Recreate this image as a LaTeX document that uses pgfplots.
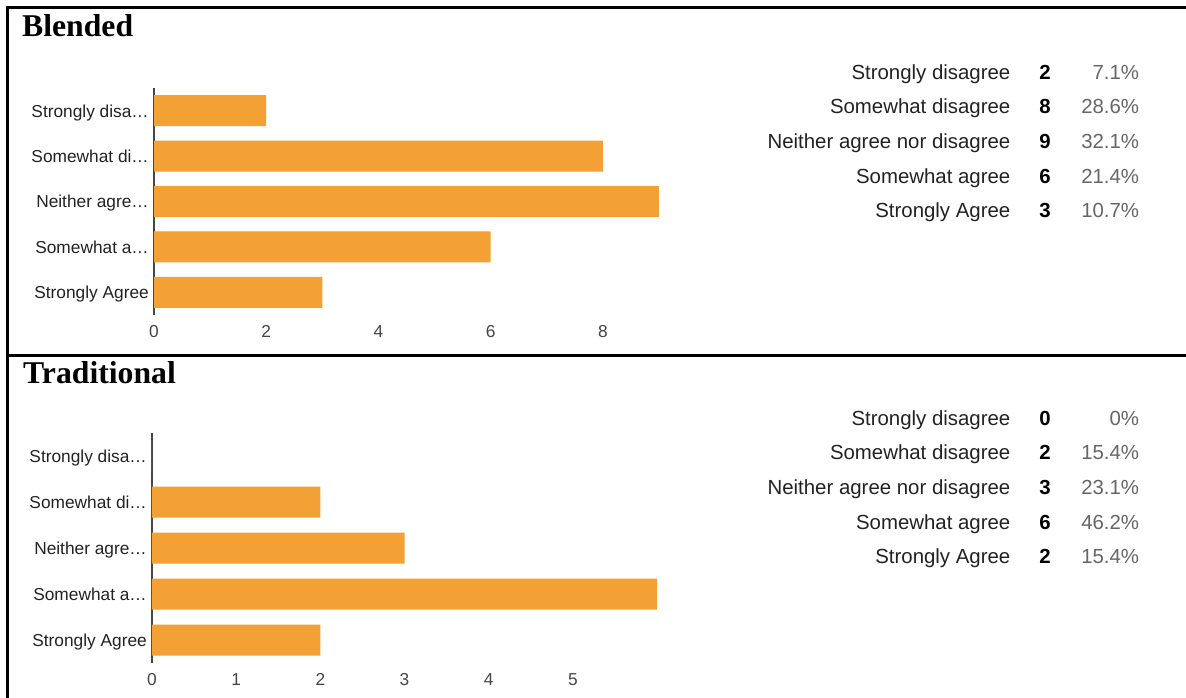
\documentclass[border=0pt]{standalone}
\usepackage{pgfplots}
\pgfplotsset{compat=1.18}
\usepackage{pgfplotstable}
\usepackage{fontspec}
\setmainfont{Liberation Sans}
\newfontfamily\titlefont{Liberation Serif}

\definecolor{barorange}{RGB}{243,160,52}
\definecolor{labelgray}{RGB}{34,34,34}
\definecolor{tickgray}{RGB}{68,68,68}
\definecolor{pctgray}{RGB}{102,102,102}
\definecolor{axisgray}{RGB}{70,70,70}

% survey answers: row index, count, share in percent, axis label, full label
\pgfplotstableread[col sep=comma]{
idx,count,pct,short,long
0,2,7.1,Strongly disa…,Strongly disagree
1,8,28.6,Somewhat di…,Somewhat disagree
2,9,32.1,Neither agre…,Neither agree nor disagree
3,6,21.4,Somewhat a…,Somewhat agree
4,3,10.7,Strongly Agree,Strongly Agree
}\blended

\pgfplotstableread[col sep=comma]{
idx,count,pct,short,long
0,0,0,Strongly disa…,Strongly disagree
1,2,15.4,Somewhat di…,Somewhat disagree
2,3,23.1,Neither agre…,Neither agree nor disagree
3,6,46.2,Somewhat a…,Somewhat agree
4,2,15.4,Strongly Agree,Strongly Agree
}\traditional

\newcommand\labfont{\fontsize{17.3}{20}\selectfont}
\newcommand\rowfont{\fontsize{20.4}{24}\selectfont}
\newcommand\headfont{\titlefont\bfseries\fontsize{31.7}{36}\selectfont}

\pgfplotsset{
  surveybars/.style={
    xbar, scale only axis, width=505pt,
    axis lines=left, axis line style={-},
    x axis line style={draw=none},
    y axis line style={draw=axisgray, line width=1.2pt},
    major tick length=0pt,
    y dir=reverse, ymin=-0.5, ymax=4.5, ytick={0,...,4},
    xmin=0,
    /pgf/number format/assume math mode=true,
    yticklabel style={font=\labfont, text=labelgray, anchor=base east,
      inner sep=0pt, xshift=-5pt, yshift=-6.3pt},
    xticklabel style={font=\labfont, text=tickgray, anchor=base,
      inner sep=0pt, yshift=-22pt},
    bar width=31pt, clip=false,
  },
}

% right-hand summary: label, bold count, grey share
\newcommand\summary[2]{%
  \foreach \i in {0,...,4}{
    \pgfplotstablegetelem{\i}{long}\of#1\let\lab\pgfplotsretval
    \pgfplotstablegetelem{\i}{count}\of#1\let\cnt\pgfplotsretval
    \pgfplotstablegetelem{\i}{pct}\of#1\let\pc\pgfplotsretval
    \node[anchor=base east, inner sep=0pt, text=labelgray, font=\rowfont]
      at (1010.5pt, {-#2pt-34.6pt*\i}) {\lab};
    \node[anchor=base, inner sep=0pt, text=black, font=\rowfont\bfseries]
      at (1045pt, {-#2pt-34.6pt*\i}) {\cnt};
    \node[anchor=base east, inner sep=0pt, text=pctgray, font=\rowfont]
      at (1139.3pt, {-#2pt-34.6pt*\i}) {\pc\%};
  }%
}

\begin{document}
\begin{tikzpicture}
\useasboundingbox (0,0) rectangle (1186pt,-698pt);

% table rules
\draw[line width=2.4pt] (7.5pt,-7.5pt) -- (1186pt,-7.5pt);
\draw[line width=2.4pt] (7.5pt,-6.3pt) -- (7.5pt,-698pt);
\draw[line width=2.4pt] (6.3pt,-355.5pt) -- (1186pt,-355.5pt);

% Blended
\node[anchor=base west, inner sep=0pt, font=\headfont] at (22pt,-37pt) {Blended};
\begin{axis}[surveybars, at={(154pt,-315pt)}, anchor=south west,
  height=227pt, xmax=9, xtick={0,2,4,6,8},
  yticklabels from table={\blended}{short}]
  \addplot[fill=barorange, draw=none] table[x=count, y=idx] {\blended};
\end{axis}
\summary{\blended}{79.3}

% Traditional
\node[anchor=base west, inner sep=0pt, font=\headfont] at (23pt,-383.3pt) {Traditional};
\begin{axis}[surveybars, at={(152pt,-663pt)}, anchor=south west,
  height=230pt, xmax=6, xtick={0,...,5},
  yticklabels from table={\traditional}{short}]
  \addplot[fill=barorange, draw=none] table[x=count, y=idx] {\traditional};
\end{axis}
\summary{\traditional}{425.3}
\end{tikzpicture}
\end{document}
